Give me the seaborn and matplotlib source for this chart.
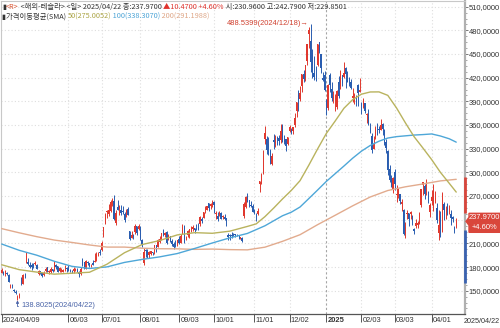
import matplotlib
matplotlib.use("Agg")
import numpy as np
import pandas as pd
import matplotlib.pyplot as plt
import seaborn as sns
from matplotlib.ticker import MultipleLocator
from matplotlib.patches import Polygon
import matplotlib.transforms as mtransforms

# ---------------- data (daily candles 2024/04/09 .. 2025/04/22) ----------------
opens = [
    172.91,173.04,172.55,172.34,170.24,156.74,157.64,151.25,148.97,140.56,143.33,162.84,158.96,168.85,188.42,186.98,
    182.00,182.86,182.10,183.80,182.40,171.59,175.01,173.05,170.00,174.50,179.90,174.10,173.55,177.56,175.51,182.85,181.80,174.84,176.40,174.19,178.58,178.50,
    178.13,174.78,175.35,174.60,176.13,176.06,173.92,171.12,188.39,185.80,177.92,186.56,184.68,182.30,184.97,186.54,189.33,195.17,199.55,
    201.02,218.89,234.56,249.81,247.71,251.00,262.80,263.30,235.80,255.97,255.31,252.73,251.09,247.79,244.21,253.60,225.42,216.80,221.19,224.90,232.25,227.90,
    227.69,214.88,185.22,200.75,200.77,195.70,197.05,199.02,198.47,207.39,205.02,211.15,217.07,224.88,220.82,223.82,214.46,218.75,213.25,209.72,209.80,208.63,
    215.26,210.59,223.49,232.60,216.20,220.07,224.55,224.66,228.00,229.30,229.45,230.09,234.00,241.52,242.61,254.08,252.54,260.60,257.38,259.04,
    262.67,247.55,244.48,246.69,249.00,243.56,243.82,241.81,220.13,220.13,220.01,221.40,221.59,220.71,218.90,217.31,217.13,244.68,256.01,270.00,264.51,258.04,257.99,
    252.04,244.56,247.34,284.67,288.89,299.14,342.74,342.74,335.85,327.69,310.57,340.73,335.50,345.00,343.81,341.09,360.14,341.00,341.80,336.08,
    352.38,351.80,353.00,359.87,377.42,397.61,392.68,409.70,424.84,420.00,441.09,475.90,466.50,451.88,425.51,431.00,435.90,465.16,449.52,419.40,423.79,
    390.10,381.48,423.20,405.83,392.95,391.40,383.21,414.34,409.90,423.49,421.50,432.64,416.81,416.06,414.45,394.80,396.91,395.21,410.78,401.53,
    386.68,382.63,387.51,373.03,370.19,356.21,345.80,329.94,345.00,360.62,355.01,354.00,361.51,353.44,338.14,327.02,303.71,291.16,279.50,
    300.34,270.93,272.92,272.06,259.32,252.54,225.31,247.22,248.13,247.31,245.06,228.16,231.61,233.34,234.99,258.08,283.60,282.66,272.48,275.58,249.31,
    263.80,254.60,265.29,255.38,223.78,245.00,224.69,260.00,251.84,258.36,249.91,247.61,243.47,230.26,230.96,
]
highs = [
    179.22,174.93,175.88,173.81,170.69,158.19,158.33,152.20,150.94,144.44,147.26,167.97,170.88,172.12,198.87,190.95,
    185.86,184.60,184.78,187.56,183.26,176.06,175.62,173.06,175.40,179.49,180.00,175.79,179.63,177.75,186.88,183.80,181.90,180.08,178.25,178.15,182.67,180.32,
    182.64,177.76,176.15,179.73,179.35,178.57,174.75,180.55,191.08,186.00,188.81,187.20,185.21,183.95,188.80,197.76,199.44,198.72,203.20,
    213.23,231.30,248.35,252.37,259.44,265.61,267.59,271.00,251.84,265.60,258.62,258.47,257.14,249.44,253.21,255.76,225.99,226.00,222.28,234.27,232.41,234.68,
    231.87,216.13,203.88,202.90,203.49,200.70,200.88,199.26,208.49,208.44,215.88,219.80,222.98,228.22,224.66,225.66,221.48,219.09,215.66,211.84,214.89,214.57,
    219.90,222.22,235.00,233.60,219.87,226.40,228.47,231.45,232.67,229.96,234.57,235.68,244.24,243.99,250.00,257.19,257.05,261.75,260.70,264.86,
    263.98,251.16,249.79,250.96,249.83,246.21,247.43,242.79,223.34,221.91,224.26,222.82,222.08,222.28,220.48,218.22,218.72,262.12,269.49,273.54,264.98,263.35,259.75,
    254.00,248.90,255.28,289.59,299.75,328.71,358.64,345.84,344.60,329.98,324.68,348.55,347.38,346.60,347.99,361.53,361.93,346.96,342.55,345.45,
    360.00,355.69,358.10,375.43,389.49,404.80,409.73,424.88,429.30,436.30,463.19,483.99,488.54,456.36,447.08,434.51,462.78,465.33,450.00,427.00,427.93,
    392.73,411.88,426.43,414.33,402.50,399.28,403.79,422.64,429.80,424.00,439.74,433.20,428.00,420.73,418.88,406.69,400.59,398.59,412.50,419.99,
    389.17,394.00,388.39,375.40,380.55,362.70,349.37,346.40,358.69,362.00,359.10,367.34,362.30,354.98,342.40,328.89,309.00,297.23,293.88,
    303.94,284.35,279.55,272.65,266.25,253.37,237.06,251.84,248.29,251.58,245.40,230.10,241.41,238.00,249.52,278.64,288.20,284.90,291.85,276.10,260.56,
    277.45,284.99,276.30,261.00,252.00,250.44,274.69,262.49,257.74,261.80,258.59,251.97,244.34,232.21,242.79,
]
lows = [
    171.92,170.01,168.51,170.36,161.38,153.75,153.78,148.70,146.22,138.80,141.11,157.51,158.36,166.37,184.54,182.84,
    179.01,176.02,178.42,182.20,177.40,170.15,171.37,167.75,169.00,174.07,173.11,171.43,172.75,173.52,174.71,178.12,173.26,173.73,173.16,173.93,175.38,173.82,
    174.49,173.52,172.13,172.73,175.58,173.17,167.41,169.80,181.23,176.92,177.00,182.37,179.66,180.69,182.39,186.36,187.91,194.05,195.26,
    200.85,218.06,234.25,242.46,244.57,250.30,257.86,239.65,233.09,251.73,245.80,246.18,247.20,236.83,243.75,245.63,214.71,216.23,215.33,222.28,220.00,226.79,
    214.33,205.78,182.00,192.67,191.48,192.04,195.11,194.67,197.06,198.75,204.82,210.80,214.09,219.56,218.19,209.48,214.21,212.11,206.94,202.59,205.97,207.03,
    209.64,210.57,222.25,210.51,213.67,218.64,216.80,223.83,226.32,223.53,226.55,226.88,232.13,235.92,241.92,249.05,252.28,251.53,254.12,255.77,
    248.53,241.50,237.81,244.58,240.70,240.56,239.51,232.34,214.38,213.74,217.12,218.93,217.90,219.23,215.73,215.26,212.11,242.65,255.32,262.24,255.51,255.82,249.25,
    246.63,238.88,246.21,275.62,285.52,297.66,336.00,323.31,322.50,310.37,309.22,330.01,332.75,334.30,335.28,337.70,338.20,335.66,326.59,334.65,
    351.15,348.20,348.60,357.42,370.80,378.01,390.85,402.38,415.00,415.71,436.15,457.51,427.01,420.02,417.64,415.41,435.14,451.02,426.50,415.75,402.54,
    373.04,379.45,401.70,390.00,387.40,377.29,380.07,394.54,405.66,409.13,419.75,406.31,414.59,408.95,405.78,389.00,386.50,384.48,384.41,401.34,
    374.36,381.40,375.53,363.18,360.34,350.51,325.10,329.12,342.85,347.50,350.02,353.67,348.00,334.42,324.70,297.25,288.04,280.88,273.60,
    277.30,261.84,267.71,260.02,250.73,220.00,217.02,241.10,232.60,240.73,232.80,222.28,229.20,230.05,234.55,256.33,271.28,266.51,271.82,260.57,243.36,
    259.25,251.27,261.51,236.00,214.25,217.80,223.88,239.33,241.36,245.93,247.54,233.89,237.68,222.79,229.85,
]
closes = [
    176.88,171.76,174.60,171.05,161.48,157.11,155.45,149.93,147.05,142.05,144.68,162.13,170.18,168.29,194.05,183.28,
    179.99,180.01,181.19,184.76,177.81,174.72,171.97,168.47,171.89,177.55,173.99,174.84,177.46,174.95,186.60,180.11,173.74,179.24,176.75,176.19,178.79,178.08,
    176.29,174.77,175.00,177.94,177.48,173.79,170.66,177.29,182.47,178.01,187.44,184.86,181.57,183.01,182.58,187.35,196.37,197.42,197.88,
    209.86,231.26,246.39,251.52,252.94,262.33,263.26,241.03,248.23,252.64,256.56,248.50,249.23,239.20,251.51,246.38,215.99,220.25,219.80,232.10,222.62,232.07,
    216.86,207.67,198.88,200.64,191.76,198.84,200.00,197.49,207.83,201.38,214.14,216.12,222.72,221.10,223.27,210.66,220.32,213.21,209.21,205.75,206.28,214.11,
    210.60,219.41,230.17,210.73,216.27,226.17,228.13,229.81,230.29,226.78,227.87,227.20,243.92,238.25,250.00,254.27,257.02,254.22,260.46,261.63,
    258.02,249.02,240.66,250.08,240.83,244.50,241.05,238.77,217.80,219.16,219.57,221.33,220.89,220.70,218.85,217.97,213.65,260.48,269.19,262.51,259.52,257.55,249.85,
    248.98,242.84,251.44,288.53,296.91,321.22,350.00,328.49,330.24,311.18,320.72,338.74,346.00,342.03,339.64,352.56,338.59,338.23,332.89,345.16,
    357.09,351.42,357.93,369.49,389.22,389.79,400.99,424.77,418.10,436.23,463.02,479.86,440.13,436.17,421.06,430.60,462.28,454.13,431.66,417.41,403.84,
    379.28,410.44,411.05,394.36,394.94,394.74,403.31,396.36,428.22,413.82,426.50,424.07,415.11,412.38,406.58,397.15,398.09,389.10,400.28,404.60,
    383.68,392.21,378.17,374.32,361.62,350.73,328.50,336.51,355.94,355.84,354.11,360.56,354.40,337.80,330.53,302.80,290.80,281.95,292.98,
    284.65,272.04,279.10,263.45,262.67,222.15,230.58,248.09,240.68,249.98,238.01,225.31,235.86,236.26,248.71,278.39,288.14,272.06,273.13,263.55,259.16,
    268.46,282.76,267.28,239.43,233.29,221.86,272.20,252.40,252.31,252.35,254.11,241.55,241.37,227.50,237.97,
]

tick_pos = [0, 38, 57, 79, 101, 121, 144, 164, 185, 205, 224, 245]
tick_labels = ["2024/04/09", "06/03", "07/01", "08/01", "09/03", "10/01",
               "11/01", "12/02", "2025", "02/03", "03/03", "04/01"]
last_date_label = "2025/04/22"
year_tick = "2025"

# moving averages (day index, value)
sma50_x = [0,10,20,30,40,50,60,70,80,90,100,110,120,130,140,145,150,155,160,165,170,175,180,
           185,190,195,200,205,210,215,220,225,230,235,240,245,250,255,259]
sma50_y = [182.9,176.7,173.6,171.0,172.2,173.4,183.6,198.2,208.5,213.6,220.7,223.6,222.8,225.5,231.5,
           234.7,243.9,254.8,266.3,277.1,289.5,309.1,329.7,349.4,365.0,381.2,392.2,399.1,401.9,402.0,
           397.6,381.6,362.9,345.2,330.9,316.2,300.0,286.2,275.0]
sma100_x = [0,10,20,30,40,50,60,70,80,90,100,110,120,130,140,150,160,165,170,175,180,185,190,195,
            200,205,210,215,220,225,230,235,240,245,250,255,259]
sma100_y = [209.2,201.2,195.0,187.3,180.9,178.2,180.2,185.9,189.7,192.9,197.1,203.6,210.5,217.0,222.6,
            232.3,245.0,249.5,256.1,266.8,277.6,288.6,298.3,308.0,318.0,326.9,334.1,339.5,343.5,345.3,
            346.3,347.3,347.9,348.7,346.1,342.6,338.3]
sma200_x = [0,10,20,30,40,50,60,70,80,90,100,110,120,130,140,150,160,170,180,190,200,210,220,230,240,250,259]
sma200_y = [228.7,223.4,218.5,214.2,211.2,208.0,205.3,205.3,203.9,203.2,203.1,202.4,202.8,202.1,201.8,
            205.2,212.6,221.0,233.7,245.6,257.6,268.8,277.0,281.7,285.3,289.2,291.2]

y_ticks = [150, 180, 210, 240, 270, 300, 330, 360, 390, 420, 450, 480, 510]
high_idx, high_val, high_label = 176, 488.5399, "488.5399(2024/12/18)"
low_idx, low_val, low_label = 9, 138.8025, "138.8025(2024/04/22)"
last_close, last_pct = 237.97, "+4.60%"

header1 = [("▮", "#333333"), ("<R>", "#d9502d"),
           (" <해외-테슬라> <일> 2025/04/22 종:237.9700 ", "#333333"),
           ("▲10.4700 +4.60%", "#e0322c"),
           (" 시:230.9600 고:242.7900 저:229.8501", "#333333")]
header2 = [("▮가격이동평균(SMA) ", "#333333"), ("50(275.0052)", "#aaa343"),
           (" 100(338.3070)", "#4aa3d6"), (" 200(291.1988)", "#dea585")]

# ---------------- styling ----------------
UP, DOWN = "#e0382e", "#2a5db0"
C50, C100, C200 = "#b9b35e", "#4ea7d8", "#e2ab8e"
FONT = ["Liberation Sans", "Noto Sans CJK KR", "DejaVu Sans"]
HEAD_FONT = ["Noto Sans CJK KR", "DejaVu Sans"]
FS = 5.4

sns.set_theme(style="white")
plt.rcParams["font.family"] = FONT
plt.rcParams["axes.unicode_minus"] = False

W, H = 500, 328
fig = plt.figure(figsize=(W / 100, H / 100), dpi=100)
ax = fig.add_axes([1 / W, 14 / H, 464 / W, 313 / H])

n = len(closes)
assert len(opens) == n and len(highs) == n and len(lows) == n
df = pd.DataFrame({"i": np.arange(n), "o": opens, "h": highs, "l": lows, "c": closes})
up = df["c"] >= df["o"]
cols = np.where(up, UP, DOWN)

ax.set_xlim(-0.4, 264)
ax.set_ylim(120.5, 517.2)

# grid
for y in y_ticks:
    ax.axhline(y, color="#dedede", lw=0.8, ls=(0, (1, 2)), zorder=0)
for p in tick_pos[1:]:
    if p == tick_pos[tick_labels.index(year_tick)]:
        ax.axvline(p, color="#a5a5a5", lw=0.8, ls=(0, (2, 2)), zorder=0)
    else:
        ax.axvline(p, color="#dedede", lw=0.8, ls=(0, (1, 2)), zorder=0)

# candles
ax.vlines(df["i"], df["l"], df["h"], colors=cols, lw=0.7, zorder=2)
body_lo = np.minimum(df["o"], df["c"])
body_h = np.maximum(np.abs(df["c"] - df["o"]), 0.4)
ax.bar(df["i"], body_h, bottom=body_lo, width=0.72, color=cols, lw=0, zorder=3)

# moving averages with seaborn
for xs, ys, c in [(sma200_x, sma200_y, C200), (sma100_x, sma100_y, C100), (sma50_x, sma50_y, C50)]:
    sdf = pd.DataFrame({"x": xs, "y": ys})
    sns.lineplot(data=sdf, x="x", y="y", ax=ax, color=c, lw=1.0, zorder=4, legend=False)
ax.set_xlabel("")
ax.set_ylabel("")

# spines
for s in ["left", "top"]:
    ax.spines[s].set_color("#c8c8c8")
    ax.spines[s].set_linewidth(0.8)
ax.spines["right"].set_color("#b0b0b0")
ax.spines["right"].set_linewidth(1.6)
ax.spines["bottom"].set_color("#555555")
ax.spines["bottom"].set_linewidth(0.9)

# y axis on right
ax.yaxis.tick_right()
ax.set_yticks(y_ticks)
ax.set_yticklabels([("" if v == 240 else f"{v:.4f}".replace(".", ",")) for v in y_ticks])
ax.yaxis.set_minor_locator(MultipleLocator(7.5))
ax.tick_params(axis="y", which="major", direction="out", length=2.2, width=0.7, color="#777777",
               labelsize=FS, labelcolor="#333333", pad=0.6, right=True, left=False)
ax.tick_params(axis="y", which="minor", direction="out", length=1.2, width=0.6, color="#999999",
               right=True, left=False)

# x axis
ax.set_xticks(tick_pos)
ax.set_xticklabels(tick_labels)
ax.tick_params(axis="x", which="major", direction="out", length=5.5, width=0.7, color="#555555",
               labelsize=FS, labelcolor="#333333", pad=-3.6, bottom=True)
off = mtransforms.ScaledTranslation(0.014, 0, fig.dpi_scale_trans)
for lbl in ax.get_xticklabels():
    lbl.set_horizontalalignment("left")
    lbl.set_transform(lbl.get_transform() + off)
    if lbl.get_text() == year_tick:
        lbl.set_fontweight("bold")

fig.text(499.5 / W, 1 - 321.5 / H, last_date_label, fontsize=5.2, color="#333333", ha="right", va="center")

# extreme annotations
ax.annotate(high_label + "→", xy=(high_idx - 1.2, high_val), ha="right", va="center",
            fontsize=FS, color="#d0402f", zorder=6)
ax.annotate(low_label, xy=(low_idx, low_val), xytext=(2.6, -4.6), textcoords="offset points",
            ha="left", va="center", fontsize=FS, color="#4a64a8",
            arrowprops=dict(arrowstyle="-|>", color="#4a64a8", lw=0.6, mutation_scale=4,
                            shrinkA=0, shrinkB=0.5,
                            connectionstyle="angle,angleA=0,angleB=90,rad=0"))

# coloured range bars along the price axis
yax = ax.get_yaxis_transform()
ax.plot([1.0, 1.0], [248, 294], transform=yax, color="#d8453b", lw=2.0, clip_on=False, zorder=7,
        solid_capstyle="butt")
ax.plot([1.0, 1.0], [160, 227], transform=yax, color="#3a62b0", lw=2.0, clip_on=False, zorder=7,
        solid_capstyle="butt")

# current price box
fig.canvas.draw()
py = ax.transData.transform((0, last_close))[1]
x0 = ax.transAxes.transform((1, 0))[0]
box = Polygon([(x0 + 1, py), (x0 + 4, py + 4), (x0 + 4, py + 8), (W, py + 8),
               (W, py - 11), (x0 + 4, py - 11), (x0 + 4, py - 4)],
              closed=True, transform=mtransforms.IdentityTransform(), color="#d9463b", zorder=10)
fig.add_artist(box)
fig.text((x0 + 4 + W) / 2 / W, (py + 3.5) / H, f"{last_close:.4f}", fontsize=FS, color="white",
         ha="center", va="center", zorder=11)
fig.text((x0 + 4 + W) / 2 / W, (py - 6) / H, last_pct, fontsize=FS, color="white",
         ha="center", va="center", zorder=11)

# header text runs
def text_run(x_px, y_px, segs, fs):
    r = fig.canvas.get_renderer()
    x = x_px
    for s, c in segs:
        t = fig.text(x / W, 1 - y_px / H, s, color=c, fontsize=fs, ha="left", va="center",
                     zorder=12, family=HEAD_FONT)
        x += t.get_window_extent(renderer=r).width

text_run(2, 7, header1, 5.25)
text_run(2, 16.5, header2, 5.25)

fig.savefig("out.png", dpi=100, facecolor="white")
